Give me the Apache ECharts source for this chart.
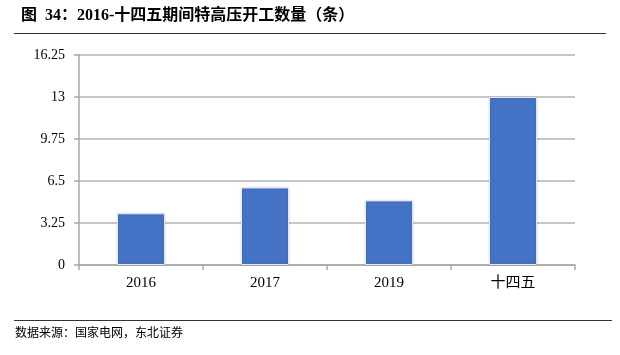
<!DOCTYPE html>
<html>
<head>
<meta charset="utf-8">
<script src="https://cdn.jsdelivr.net/npm/echarts@6/dist/echarts.min.js"></script>
<style>html,body{margin:0;padding:0;background:#fff;}#c{width:620px;height:355px;}</style>
</head>
<body>
<div id="c"></div>
<script>
var categories = ['2016', '2017', '2019', '十四五'];
var values = [4, 6, 5, 13];
var yTicks = [0, 3.25, 6.5, 9.75, 13, 16.25];
var titleText = '图  34：2016-十四五期间特高压开工数量（条）';
var sourceText = '数据来源：国家电网，东北证券';

var chart = echarts.init(document.getElementById('c'), null, {renderer: 'canvas'});
chart.setOption({
  animation: false,
  backgroundColor: '#fff',
  title: {
    text: titleText,
    left: 16, top: 3,
    textStyle: {fontFamily: '"Liberation Serif","Noto Sans CJK SC",serif', fontWeight: 'bold', fontSize: 16, color: '#000'}
  },
  graphic: [
    {type: 'line', shape: {x1: 14, y1: 33.5, x2: 606, y2: 33.5}, style: {stroke: '#333', lineWidth: 1}},
    {type: 'line', shape: {x1: 14, y1: 320.5, x2: 612, y2: 320.5}, style: {stroke: '#333', lineWidth: 1}},
    {type: 'text', left: 15, top: 326, style: {text: sourceText, font: '12px "Noto Sans CJK SC", sans-serif', fill: '#000'}}
  ],
  grid: {left: 79, right: 45, top: 55, bottom: 90, containLabel: false},
  xAxis: {
    type: 'category',
    data: categories,
    axisLine: {lineStyle: {color: '#a6a6a6', width: 1.5}},
    axisTick: {show: true, alignWithLabel: false, length: 5, lineStyle: {color: '#a6a6a6', width: 1.5}},
    axisLabel: {color: '#000', fontSize: 15, margin: 11, fontFamily: '"Liberation Serif","Noto Sans CJK SC",serif'}
  },
  yAxis: {
    type: 'value',
    min: 0, max: 16.25, interval: 3.25,
    axisLine: {show: true, lineStyle: {color: '#a6a6a6', width: 1.5}},
    axisTick: {show: true, length: 5, lineStyle: {color: '#a6a6a6', width: 1.5}},
    splitLine: {lineStyle: {color: '#b4b4b4', width: 1.5}},
    axisLabel: {color: '#000', fontSize: 14, margin: 14, fontFamily: '"Liberation Serif",serif',
      formatter: function (v) { return String(v); }}
  },
  series: [{
    type: 'bar',
    data: values,
    barWidth: 48,
    itemStyle: {color: '#4472C4', borderColor: '#e4eaf5', borderWidth: 1, shadowColor: 'rgba(0,0,0,0.15)', shadowBlur: 2}
  }]
});
</script>
</body>
</html>
